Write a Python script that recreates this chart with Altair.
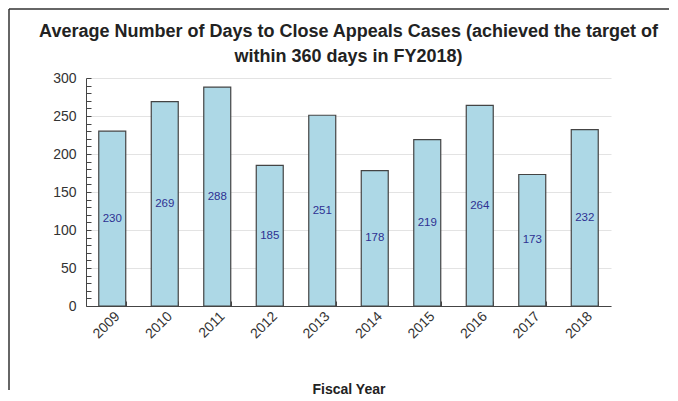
import altair as alt
import pandas as pd

years = ["2009", "2010", "2011", "2012", "2013", "2014", "2015", "2016", "2017", "2018"]
days = [230, 269, 288, 185, 251, 178, 219, 264, 173, 232]
y_ticks = list(range(0, 301, 10))

df = pd.DataFrame({"year": years, "days": days})

W, H = 525, 228
FONT = "Liberation Sans"

base = alt.Chart(df)
one = alt.Chart(pd.DataFrame({"k": [0]}))

left_line = one.mark_rule(color="#333333", strokeWidth=1.5, clip=False).encode(
    x=alt.value(-77), y=alt.value(-69), y2=alt.value(H + 84)
)
top_line = one.mark_rule(color="#333333", strokeWidth=1.5, clip=False).encode(
    x=alt.value(-77), x2=alt.value(W + 58), y=alt.value(-69)
)

x_axis = alt.Axis(
    labelAngle=-45,
    labelFontSize=14,
    labelColor="#333333",
    labelFont=FONT,
    tickBand="extent",
    tickSize=alt.ExprRef("-5"),
    tickColor="#444444",
    domainColor="#444444",
    labelPadding=8,
    titleFontSize=14,
    titleFontWeight="bold",
    titleColor="#222222",
    titleFont=FONT,
    titlePadding=42,
    grid=False,
)

y_axis = alt.Axis(
    values=y_ticks,
    labelExpr="datum.value % 50 == 0 ? datum.label : ''",
    labelOverlap=False,
    labelFontSize=14,
    labelColor="#333333",
    labelFont=FONT,
    tickSize=alt.ExprRef("-5"),
    tickColor="#444444",
    domainColor="#444444",
    labelPadding=15,
    gridColor="#e3e3e3",
    gridOpacity=alt.condition("datum.value % 50 == 0", alt.value(1), alt.value(0)),
)

x_scale = alt.Scale(paddingInner=0.486, paddingOuter=0.243)
y_scale = alt.Scale(domain=[0, 300], nice=False)

bars = base.mark_bar(fill="#add8e6", stroke="#444444", strokeWidth=1.2).encode(
    x=alt.X("year:N", sort=years, title="Fiscal Year", scale=x_scale, axis=x_axis),
    y=alt.Y("days:Q", title=None, scale=y_scale, axis=y_axis),
)

labels = base.transform_calculate(mid="datum.days / 2").mark_text(
    color="#2e3192", fontSize=11.5, font=FONT, baseline="middle"
).encode(
    x=alt.X("year:N", sort=years, title="Fiscal Year", scale=x_scale, axis=x_axis),
    y=alt.Y("mid:Q", title=None, scale=y_scale, axis=y_axis),
    text=alt.Text("days:Q"),
)

chart = alt.layer(bars, labels, left_line, top_line).properties(
    width=W,
    height=H,
    padding=0,
    title=alt.TitleParams(
        ["Average Number of Days to Close Appeals Cases (achieved the target of",
         "within 360 days in FY2018)"],
        fontSize=18,
        fontWeight="bold",
        font=FONT,
        color="#222222",
        anchor="middle",
        frame="group",
        lineHeight=25,
        offset=-58,
    ),
).configure_view(strokeWidth=0)

chart.save("out.html", embed_options={"renderer": "svg", "actions": False})
